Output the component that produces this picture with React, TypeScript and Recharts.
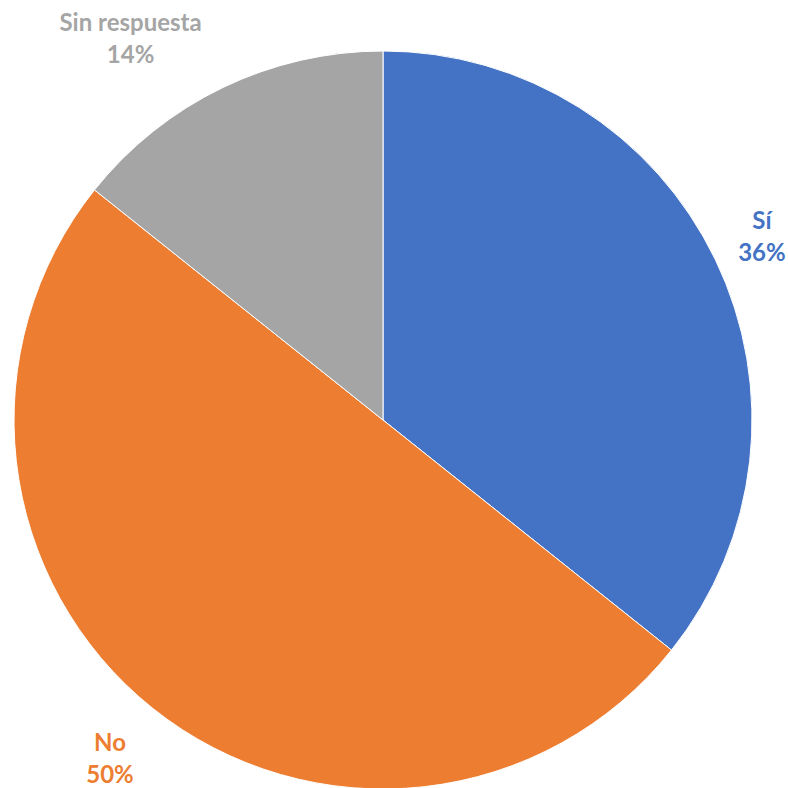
import { PieChart, Pie, Cell } from "recharts";

const categories = ["Sí", "No", "Sin respuesta"];
// answer counts, shown as rounded percentages
const counts = [5, 7, 2];
const colors = ["#4472C4", "#ED7D31", "#A5A5A5"];

const total = counts.reduce((a, b) => a + b, 0);
const data = categories.map((name, i) => ({ name, value: counts[i] }));

// Excel's "best fit" pushes some labels around a bit
const nudgeX = [-4, -8, -68];
const nudgeY = [0, 6, 1];

const RADIAN = Math.PI / 180;

function renderLabel(props: any) {
  const { cx, cy, midAngle, outerRadius, index } = props;
  const r = outerRadius + 56;
  const x = cx + r * Math.cos(-midAngle * RADIAN) + nudgeX[index];
  const y = cy + r * Math.sin(-midAngle * RADIAN) + nudgeY[index];
  const pct = Math.round((data[index].value / total) * 100);
  return (
    <text
      x={x}
      y={y}
      fill={colors[index]}
      textAnchor="middle"
      fontFamily="Lato, sans-serif"
      fontWeight="bold"
      fontSize={24}
    >
      <tspan x={x} dy={-7}>
        {data[index].name}
      </tspan>
      <tspan x={x} dy={32}>
        {pct}%
      </tspan>
    </text>
  );
}

export default function App() {
  return (
    <div style={{ position: "fixed", left: 0, top: 0, background: "#fff" }}>
      <PieChart width={788} height={788} margin={{ top: 0, right: 0, bottom: 0, left: 0 }}>
        <Pie
          data={data}
          dataKey="value"
          cx={383}
          cy={420}
          outerRadius={369}
          startAngle={90}
          endAngle={-270}
          stroke="#fff"
          strokeWidth={1}
          label={renderLabel}
          labelLine={false}
          isAnimationActive={false}
        >
          {data.map((d, i) => (
            <Cell key={d.name} fill={colors[i]} />
          ))}
        </Pie>
      </PieChart>
    </div>
  );
}
